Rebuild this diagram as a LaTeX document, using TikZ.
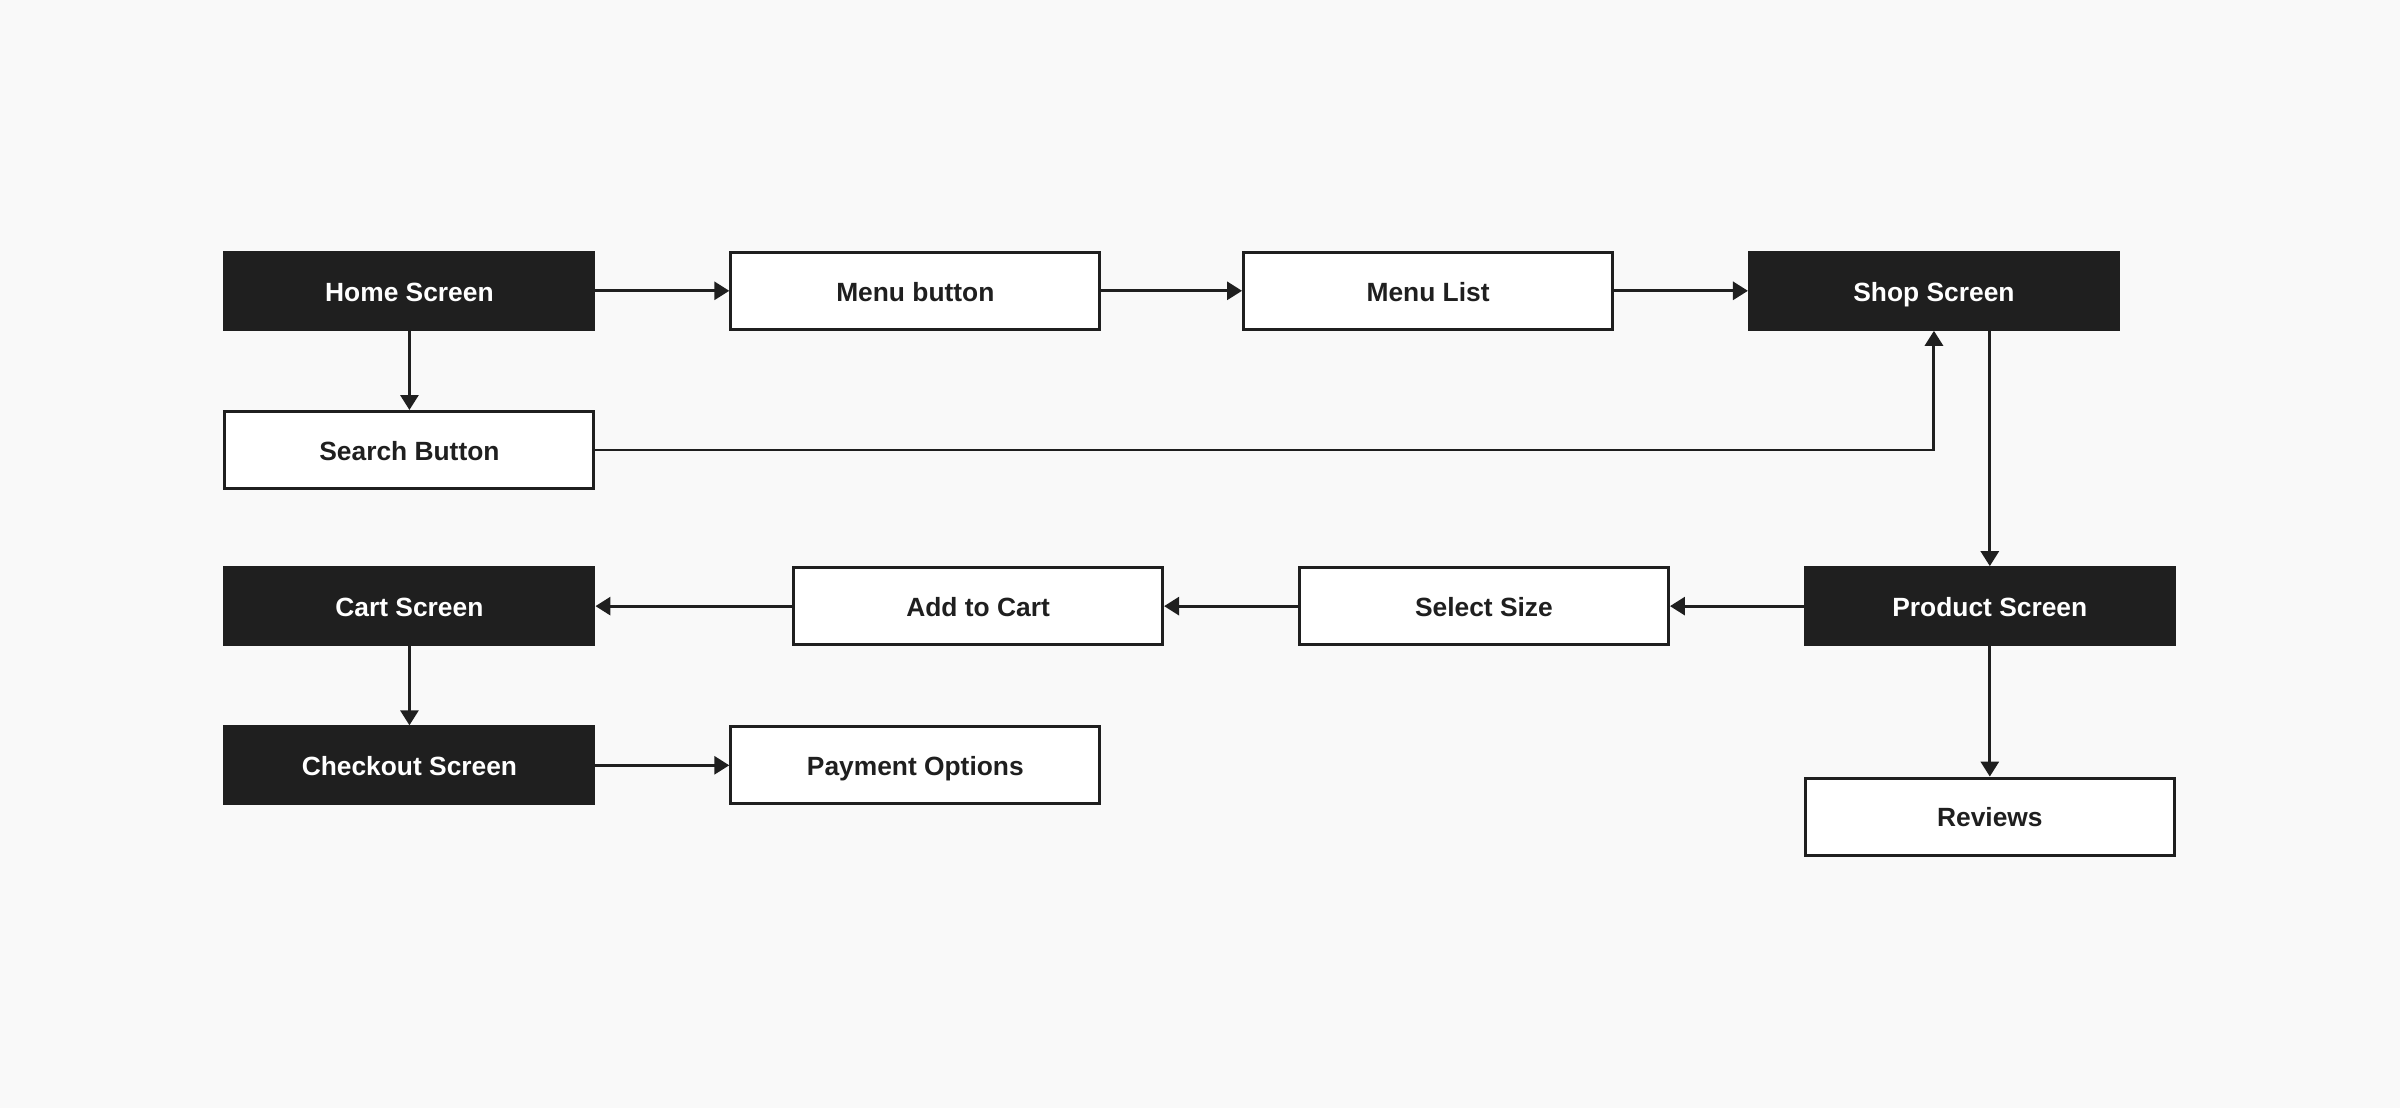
\documentclass[tikz,border=0pt]{standalone}
\usepackage{fontspec}
\setmainfont{Liberation Sans}
\usetikzlibrary{arrows.meta}
\definecolor{ink}{HTML}{1F1F1F}
\definecolor{paper}{HTML}{F9F9F9}
\begin{document}
\begin{tikzpicture}[x=0.015306cm,y=-0.015306cm,line width=0.85pt,
	screen/.style={draw=ink,fill=ink,text=white,minimum width=3.69cm,minimum height=0.77cm,inner sep=0pt,text height=1.55ex,text depth=0.45ex,font=\fontsize{7.5}{9}\selectfont\bfseries},
	action/.style={screen,fill=white,text=ink},
	flow/.style={draw=ink,-{Triangle[length=1.5mm,width=1.8mm]}}]
	\fill[paper] (0,0) rectangle (1568,724) ;
	% top row
	\node[screen] (home) at (267.5,190) {Home Screen} ;
	\node[action] (menubtn) at (598,190) {Menu button} ;
	\node[action] (menulist) at (933,190) {Menu List} ;
	\node[screen] (shop) at (1263.5,190) {Shop Screen} ;
	\node[action] (search) at (267.5,294) {Search Button} ;
	% product row
	\node[screen] (product) at (1300,396) {Product Screen} ;
	\node[action] (size) at (969.5,396) {Select Size} ;
	\node[action] (addcart) at (639,396) {Add to Cart} ;
	\node[screen] (cart) at (267.5,396) {Cart Screen} ;
	\node[screen] (checkout) at (267.5,500) {Checkout Screen} ;
	\node[action] (payment) at (598,500) {Payment Options} ;
	\node[action] (reviews) at (1300,533.5) {Reviews} ;
	% connectors
	\draw[flow] (home) -- (menubtn) ; \draw[flow] (menubtn) -- (menulist) ; \draw[flow] (menulist) -- (shop) ;
	\draw[flow] (home) -- (search) ;
	\draw[flow] (search.east) -| (shop.south) ;
	\draw[flow] (shop.south -| product.north) -- (product.north) ;
	\draw[flow] (product) -- (size) ; \draw[flow] (size) -- (addcart) ; \draw[flow] (addcart) -- (cart) ;
	\draw[flow] (cart) -- (checkout) ; \draw[flow] (checkout) -- (payment) ;
	\draw[flow] (product) -- (reviews) ;
\end{tikzpicture}
\end{document}
